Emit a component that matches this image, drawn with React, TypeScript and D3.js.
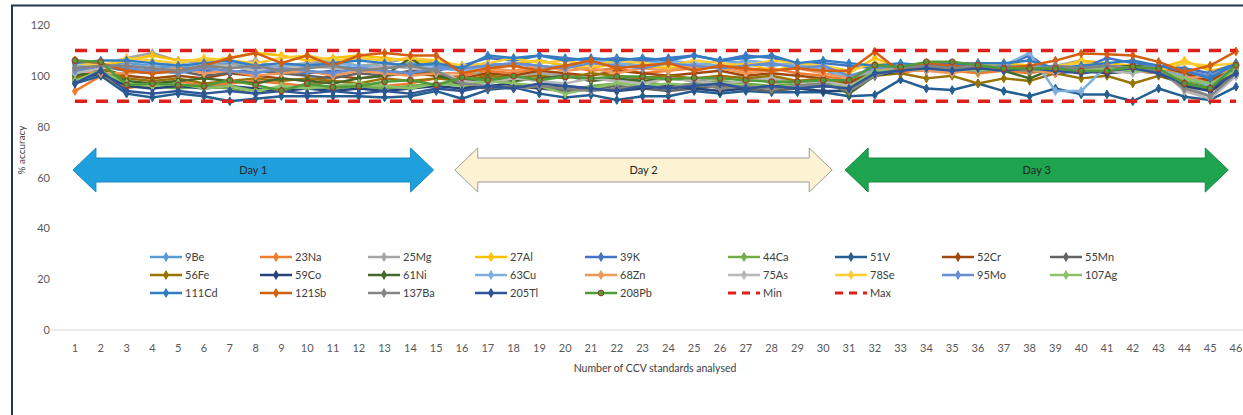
import React, { useEffect, useRef } from 'react'
import * as d3 from 'd3'

// CCV run numbers on the x axis
const runs = d3.range(1, 47)
const yTicks = [0, 20, 40, 60, 80, 100, 120]
const minLimit = 90
const maxLimit = 110

// % accuracy per element, runs 1..46
const s9Be = [105, 104, 105, 104, 103, 104, 105, 103, 104, 105, 104, 103, 104, 105, 104, 103, 105, 104, 106, 104, 105, 104, 106, 105, 104, 106, 105, 104, 105, 103, 97, 102, 103, 104, 103, 104, 103, 104, 103, 102, 104, 103, 104, 99, 97, 104]
const s23Na = [94, 100, 95, 97, 98, 96, 97, 98, 97, 96, 98, 97, 96, 97, 99, 100, 102, 101, 103, 104, 102, 103, 101, 102, 103, 104, 102, 103, 101, 100, 98, 102, 101, 103, 102, 101, 102, 101, 103, 102, 101, 102, 103, 100, 98, 103]
const s25Mg = [104, 103, 107, 109, 106, 105, 104, 106, 103, 105, 106, 104, 105, 107, 105, 103, 100, 99, 101, 100, 99, 98, 99, 100, 98, 99, 100, 97, 98, 99, 96, 101, 103, 103, 104, 105, 104, 103, 104, 106, 104, 103, 102, 96, 92, 101]
const s27Al = [106, 104, 106, 108, 106, 106, 107, 109, 108, 106, 107, 108, 107, 106, 105, 104, 103, 105, 106, 104, 103, 105, 104, 103, 104, 103, 105, 102, 104, 103, 101, 107, 103, 104, 104, 103, 105, 104, 103, 106, 105, 104, 103, 106, 102, 104]
const s39K = [103, 104, 102, 101, 103, 102, 101, 103, 102, 101, 102, 103, 102, 101, 102, 104, 107, 106, 108, 107, 106, 107, 106, 107, 108, 106, 108, 107, 105, 105, 104, 103, 104, 104, 105, 105, 104, 108, 101, 103, 107, 105, 104, 103, 101, 105]
const s44Ca = [99, 103, 96, 96, 95, 96, 95, 93, 95, 96, 95, 96, 95, 96, 97, 97, 98, 97, 96, 94, 96, 97, 98, 96, 97, 98, 97, 96, 97, 96, 96, 102, 103, 103, 104, 103, 102, 103, 102, 103, 103, 104, 103, 98, 96, 103]
const s51V = [97, 100, 93, 91.5, 93, 92, 90, 91, 92, 92, 92, 92, 91.5, 92, 94, 91, 94.5, 95.5, 93, 91.5, 92.5, 90.5, 92, 92, 94, 93, 94, 93.5, 93.5, 93.5, 92, 92.5, 98.5, 95, 94.4, 97, 94, 92, 95, 92.7, 92.7, 90, 95, 91.8, 90.5, 95.7]
const s52Cr = [101, 103, 100, 99, 100, 99, 101, 100, 99, 98, 100, 99, 100, 101, 100, 99, 101, 100, 102, 101, 100, 102, 101, 100, 101, 102, 100, 101, 100, 99, 97, 103, 104, 103, 104, 103, 104, 103, 102, 104, 103, 102, 104, 101, 98, 104]
const s55Mn = [100, 104, 102, 101, 102, 100, 101, 102, 101, 100, 99, 101, 100, 102, 101, 96, 95, 96, 95, 94, 95, 96, 95, 94, 95, 96, 95, 94, 95, 96, 95, 101, 103, 104, 104, 104, 103, 104, 103, 102, 103, 104, 102, 97, 94, 102]
const s56Fe = [99, 103, 99, 98, 99, 97, 98, 99, 98, 99, 98, 97, 99, 98, 99, 98, 100, 99, 100, 99, 101, 100, 99, 100, 99, 100, 99, 100, 98, 99, 96, 100, 101, 99, 100, 97, 99, 98, 101, 99, 100, 97, 100, 97, 95, 101]
const s59Co = [98, 101, 96, 95, 96, 95, 96, 95, 94, 95, 94, 95, 94, 95, 96, 95, 96, 97, 95, 96, 95, 94, 95, 96, 95, 94, 95, 96, 95, 94, 94, 100, 102, 102, 103, 102, 103, 102, 101, 102, 101, 102, 101, 96, 94, 100]
const s61Ni = [100, 102, 98, 97, 98, 99, 98, 97, 99, 98, 97, 99, 100, 107, 100, 98, 99, 98, 99, 100, 98, 99, 98, 99, 98, 97, 98, 99, 97, 98, 93, 100, 103, 104, 104, 103, 102, 99, 103, 102, 103, 104, 103, 97, 95, 103]
const s63Cu = [104, 105, 103, 104, 105, 103, 104, 102, 104, 103, 105, 104, 103, 104, 103, 102, 104, 105, 103, 104, 106, 105, 104, 106, 105, 104, 106, 105, 104, 103, 99, 102, 103, 102, 103, 104, 104, 109, 94, 94, 104, 103, 102, 100, 96, 104]
const s68Zn = [102, 101, 101, 102, 103, 101, 102, 100, 101, 102, 100, 102, 101, 100, 101, 101, 103, 102, 104, 102, 103, 101, 103, 102, 104, 103, 101, 102, 103, 101, 99, 103, 102, 102, 101, 103, 104, 102, 101, 103, 104, 102, 101, 99, 100, 103]
const s75As = [101, 103, 104, 103, 102, 103, 104, 102, 103, 104, 103, 102, 104, 103, 102, 98, 97, 99, 98, 97, 99, 98, 97, 99, 98, 97, 98, 99, 97, 98, 96, 101, 102, 103, 102, 103, 102, 104, 102, 103, 102, 101, 103, 94, 91, 100]
const s78Se = [105, 104, 107, 106, 105, 107, 106, 105, 107, 108, 106, 107, 106, 107, 106, 104, 105, 107, 105, 106, 104, 106, 105, 104, 106, 105, 104, 106, 105, 104, 102, 105, 104, 103, 104, 105, 104, 103, 104, 105, 104, 103, 102, 105, 104, 105]
const s95Mo = [102, 104, 103, 102, 101, 103, 102, 101, 103, 102, 101, 103, 102, 101, 103, 103, 104, 105, 104, 103, 105, 104, 103, 105, 104, 103, 104, 105, 103, 104, 100, 103, 104, 103, 104, 103, 104, 103, 104, 103, 104, 103, 104, 102, 100, 104]
const s107Ag = [98, 102, 97, 96, 97, 95, 96, 94, 96, 95, 96, 97, 96, 95, 97, 96, 98, 97, 96, 93, 95, 97, 96, 97, 96, 97, 96, 95, 96, 97, 95, 102, 102, 103, 103, 102, 103, 102, 103, 102, 103, 102, 102, 99, 97, 102]
const s111Cd = [105, 106, 106, 105, 104, 105, 106, 104, 105, 104, 105, 106, 105, 104, 105, 103, 108, 107, 108, 106, 107, 106, 107, 106, 108, 106, 107, 108, 105, 106, 105, 104, 105, 104, 104, 105, 105, 106, 103, 104, 105, 106, 104, 102, 99, 105]
const s121Sb = [106, 105, 102, 101, 102, 104, 107, 109, 105, 108, 104, 108, 109, 108, 108, 101, 103, 104, 102, 104, 106, 103, 104, 105, 102, 104, 103, 102, 103, 102, 102, 109.5, 101.5, 105, 104, 103, 103, 104, 106, 108.8, 108.5, 108, 105.5, 101.6, 104, 109.6]
const s137Ba = [103, 104, 104, 103, 102, 104, 103, 104, 102, 103, 104, 102, 103, 104, 102, 97, 96, 95, 96, 95, 94, 95, 96, 95, 97, 95, 96, 95, 96, 97, 94, 100, 103, 104, 103, 104, 103, 102, 104, 103, 104, 103, 102, 95, 92, 101]
const s205Tl = [97, 102, 94, 93, 94, 93, 94, 93, 94, 93, 94, 93, 94, 93, 95, 94, 96, 95, 97, 96, 95, 94, 96, 95, 96, 97, 95, 96, 95, 96, 95, 101, 102, 103, 102, 103, 102, 103, 102, 101, 102, 103, 101, 97, 95, 101]
const s208Pb = [106, 105.5, 96.4, 97, 96.4, 96, 98.3, 96.4, 94.1, 97, 95.5, 96, 97.7, 98.3, 96.4, 99.3, 98.3, 99.9, 98.3, 99.7, 99, 99.7, 99.7, 98.6, 99.2, 99, 98.3, 97.7, 97.7, 98.3, 98.3, 104.2, 103.5, 105.5, 105.5, 104.2, 102.9, 102.9, 102.9, 101.9, 101.9, 103.6, 102.9, 97, 95.1, 104.2]

const seriesNames = ['9Be', '23Na', '25Mg', '27Al', '39K', '44Ca', '51V', '52Cr', '55Mn', '56Fe', '59Co', '61Ni', '63Cu', '68Zn', '75As', '78Se', '95Mo', '107Ag', '111Cd', '121Sb', '137Ba', '205Tl', '208Pb']
const seriesValues = [s9Be, s23Na, s25Mg, s27Al, s39K, s44Ca, s51V, s52Cr, s55Mn, s56Fe, s59Co, s61Ni, s63Cu, s68Zn, s75As, s78Se, s95Mo, s107Ag, s111Cd, s121Sb, s137Ba, s205Tl, s208Pb]
const seriesColors = ['#5b9bd5', '#ed7d31', '#a5a5a5', '#ffc000', '#4472c4', '#70ad47', '#255e91', '#9e480e', '#636363', '#997300', '#264478', '#43682b', '#7cafdd', '#f1975a', '#b7b7b7', '#ffcd33', '#698ed0', '#8cc168', '#327dc2', '#d26012', '#848484', '#2f5597', '#4f9a3a']

// day annotations (run span the arrow covers)
const days = [
  { label: 'Day 1', from: 0.92, to: 14.9, fill: '#1fa0dc', stroke: '#1b8ac0' },
  { label: 'Day 2', from: 15.72, to: 30.35, fill: '#fdf2d2', stroke: '#9c9c9c' },
  { label: 'Day 3', from: 30.85, to: 45.7, fill: '#1ea34f', stroke: '#178a40' },
]

const legendCols = [150, 260, 368, 475, 585, 728, 835, 942, 1050]
const legendRows = [257, 275, 293]
const font = "Lato, 'Open Sans', sans-serif"

const App = () => {
  const svgRef = useRef(null)

  useEffect(() => {
    document.body.style.margin = '0'
    const svg = d3.select(svgRef.current)
    svg.selectAll('*').remove()

    const x = d3.scaleLinear().domain([1, 46]).range([75, 1236])
    const y = d3.scaleLinear().domain([0, 120]).range([330, 25])

    // frame
    svg.append('path').attr('d', 'M12,415 L12,5.5 L1243,5.5').attr('fill', 'none').attr('stroke', '#263552').attr('stroke-width', 2)

    // y tick labels
    svg.append('g')
      .selectAll('text')
      .data(yTicks)
      .enter()
      .append('text')
      .attr('x', 50)
      .attr('y', (d) => y(d) + 4)
      .attr('text-anchor', 'end')
      .style('font-family', font)
      .style('font-size', '11px')
      .style('fill', '#595959')
      .text((d) => d)

    svg.append('text')
      .attr('transform', 'translate(25,150) rotate(-90)')
      .attr('text-anchor', 'middle')
      .style('font-family', font)
      .style('font-size', '10px')
      .style('fill', '#404040')
      .text('% accuracy')

    // x axis
    svg.append('line').attr('x1', 48).attr('x2', 1243).attr('y1', y(0)).attr('y2', y(0)).attr('stroke', '#d9d9d9').attr('stroke-width', 1)
    svg.append('g')
      .selectAll('text')
      .data(runs)
      .enter()
      .append('text')
      .attr('x', (d) => x(d))
      .attr('y', 352)
      .attr('text-anchor', 'middle')
      .style('font-family', font)
      .style('font-size', '11px')
      .style('fill', '#595959')
      .text((d) => d)
    svg.append('text')
      .attr('x', 655)
      .attr('y', 372)
      .attr('text-anchor', 'middle')
      .style('font-family', font)
      .style('font-size', '10.5px')
      .style('fill', '#404040')
      .text('Number of CCV standards analysed')

    // day arrows
    days.forEach((d) => {
      const x0 = x(d.from)
      const x1 = x(d.to)
      const cy = 170
      const head = 23
      const pts = [
        [x0, cy], [x0 + head, cy - 22], [x0 + head, cy - 12], [x1 - head, cy - 12], [x1 - head, cy - 22],
        [x1, cy], [x1 - head, cy + 22], [x1 - head, cy + 12], [x0 + head, cy + 12], [x0 + head, cy + 22],
      ]
      svg.append('polygon')
        .attr('points', pts.map((p) => p.join(',')).join(' '))
        .attr('fill', d.fill)
        .attr('stroke', d.stroke)
        .attr('stroke-width', 1)
      svg.append('text')
        .attr('x', (x0 + x1) / 2)
        .attr('y', cy + 4)
        .attr('text-anchor', 'middle')
        .style('font-family', font)
        .style('font-size', '11px')
        .style('fill', '#262626')
        .text(d.label)
    })

    // series lines
    const line = d3.line().x((d, i) => x(runs[i])).y((d) => y(d))
    const diamond = d3.symbol().type(d3.symbolDiamond).size(22)
    const circle = d3.symbol().type(d3.symbolCircle).size(26)

    seriesValues.forEach((vals, si) => {
      const g = svg.append('g')
      const color = seriesColors[si]
      g.append('path')
        .attr('d', line(vals))
        .attr('fill', 'none')
        .attr('stroke', color)
        .attr('stroke-width', 2.5)
        .attr('stroke-linejoin', 'round')
      const isPb = seriesNames[si] === '208Pb'
      g.selectAll('path.m')
        .data(vals)
        .enter()
        .append('path')
        .attr('class', 'm')
        .attr('d', isPb ? circle() : diamond())
        .attr('transform', (d, i) => `translate(${x(runs[i])},${y(d)})`)
        .attr('fill', color)
        .attr('stroke', isPb ? '#a33a2a' : color)
        .attr('stroke-width', isPb ? 1.2 : 1)
    })

    // limits
    ;[minLimit, maxLimit].forEach((v) => {
      svg.append('line')
        .attr('x1', x(1))
        .attr('x2', x(46))
        .attr('y1', y(v))
        .attr('y2', y(v))
        .attr('stroke', '#e0201b')
        .attr('stroke-width', 3.5)
        .attr('stroke-dasharray', '12,9')
    })

    // legend
    const entries = seriesNames.map((n, i) => ({ name: n, color: seriesColors[i], dashed: false, pb: n === '208Pb' }))
    entries.push({ name: 'Min', color: '#e0201b', dashed: true, pb: false })
    entries.push({ name: 'Max', color: '#e0201b', dashed: true, pb: false })
    entries.forEach((e, i) => {
      const lx = legendCols[i % 9]
      const ly = legendRows[Math.floor(i / 9)]
      const g = svg.append('g').attr('transform', `translate(${lx},${ly})`)
      g.append('line')
        .attr('x1', 0)
        .attr('x2', 32)
        .attr('stroke', e.color)
        .attr('stroke-width', e.dashed ? 3 : 2.5)
        .attr('stroke-dasharray', e.dashed ? '8,6' : null)
      if (!e.dashed) {
        g.append('path')
          .attr('d', e.pb ? circle() : diamond())
          .attr('transform', 'translate(16,0)')
          .attr('fill', e.color)
          .attr('stroke', e.pb ? '#a33a2a' : e.color)
      }
      g.append('text')
        .attr('x', 35)
        .attr('y', 4)
        .style('font-family', font)
        .style('font-size', '11px')
        .style('fill', '#404040')
        .text(e.name)
    })
  }, [])

  return <svg ref={svgRef} width={1243} height={415} style={{ display: 'block', background: '#fff' }}></svg>
}

export default App
